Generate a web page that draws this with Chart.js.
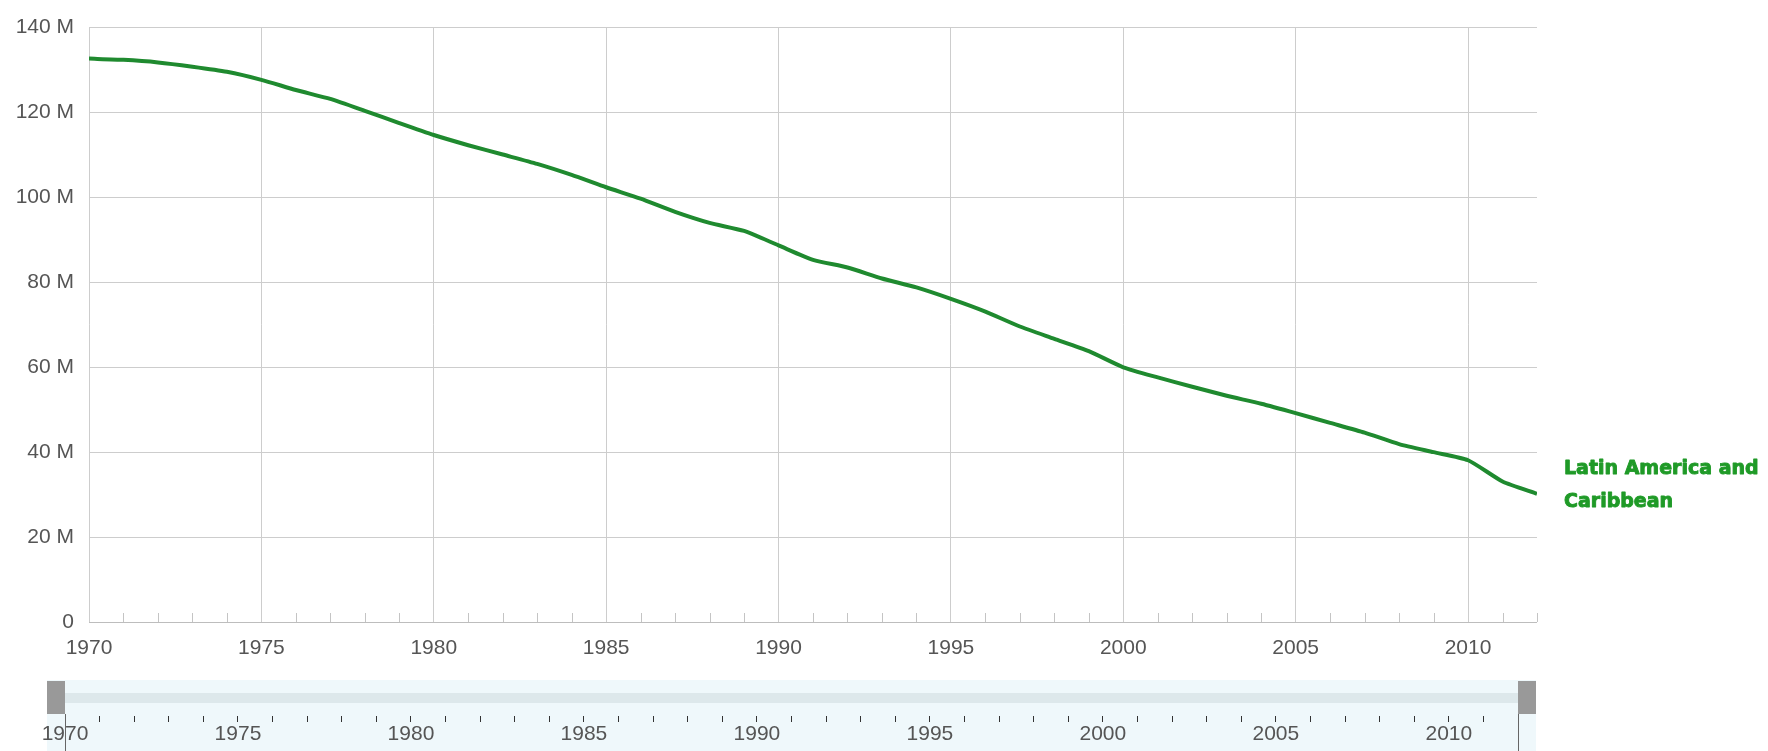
<!DOCTYPE html>
<html>
<head>
<meta charset="utf-8">
<script src="https://cdn.jsdelivr.net/npm/chart.js@4/dist/chart.umd.min.js"></script>
<style>
    body { margin: 0; background: #fff; width: 1768px; height: 751px; overflow: hidden; position: relative; }
    #mainChart { position: absolute; left: 0; top: 0; }
    #sliderChart { position: absolute; left: 0; top: 675px; }
</style>
</head>
<body>
<canvas id="mainChart" width="1768" height="675"></canvas>
<canvas id="sliderChart" width="1768" height="76"></canvas>
<script>
// Population data (millions), Latin America and Caribbean
const years = [1970, 1971, 1972, 1973, 1974, 1975, 1976, 1977, 1978, 1979,
    1980, 1981, 1982, 1983, 1984, 1985, 1986, 1987, 1988, 1989,
    1990, 1991, 1992, 1993, 1994, 1995, 1996, 1997, 1998, 1999,
    2000, 2001, 2002, 2003, 2004, 2005, 2006, 2007, 2008, 2009,
    2010, 2011, 2012];
const values = [132.7, 132.4, 131.8, 130.8, 129.6, 127.7, 125.3, 123.2, 120.4, 117.5,
    114.7, 112.3, 110.1, 107.9, 105.3, 102.4, 99.7, 96.6, 94.0, 92.1,
    88.7, 85.3, 83.5, 80.9, 78.8, 76.1, 73.1, 69.6, 66.7, 63.8,
    60.0, 57.6, 55.4, 53.3, 51.4, 49.2, 46.9, 44.6, 41.9, 40.0,
    38.1, 33.1, 30.2];
const seriesLabel = ['Latin America and', 'Caribbean'];
const yTicks = [0, 20, 40, 60, 80, 100, 120, 140];

const FONT = "'Liberation Sans', Arial, sans-serif";

// minor year ticks along the bottom axis + end label
const mainExtras = {
    id: 'mainExtras',
    afterDatasetsDraw(chart) {
        const ctx = chart.ctx;
        const x = chart.scales.x;
        const y = chart.scales.y;
        const base = y.getPixelForValue(0);
        ctx.save();
        ctx.strokeStyle = '#c4c4c4';
        ctx.lineWidth = 1;
        years.forEach(yr => {
            if (yr % 5 === 0) return;
            const px = Math.round(x.getPixelForValue(yr)) + 0.5;
            ctx.beginPath();
            ctx.moveTo(px, base);
            ctx.lineTo(px, base - 9);
            ctx.stroke();
        });
        // label next to the last point
        const lx = x.getPixelForValue(years[years.length - 1]) + 27;
        const ly = y.getPixelForValue(values[values.length - 1]);
        ctx.fillStyle = '#1f9a27';
        ctx.strokeStyle = '#1f9a27';
        ctx.lineWidth = 0.9;
        ctx.lineJoin = 'round';
        ctx.font = "bold 19px 'DejaVu Sans', sans-serif";
        ctx.textBaseline = 'alphabetic';
        ctx.textAlign = 'left';
        ctx.fillText(seriesLabel[0], lx, ly - 20);
        ctx.strokeText(seriesLabel[0], lx, ly - 20);
        ctx.fillText(seriesLabel[1], lx, ly + 13);
        ctx.strokeText(seriesLabel[1], lx, ly + 13);
        ctx.restore();
    }
};

new Chart(document.getElementById('mainChart'), {
    type: 'line',
    data: {
        datasets: [{
            data: years.map((yr, i) => ({ x: yr, y: values[i] })),
            borderColor: '#1f8a2f',
            borderWidth: 4,
            pointRadius: 0,
            tension: 0.2,
            fill: false
        }]
    },
    options: {
        responsive: false,
        animation: false,
        layout: { padding: { left: 0, right: 231, top: 20, bottom: 0 } },
        plugins: { legend: { display: false }, tooltip: { enabled: false } },
        scales: {
            x: {
                type: 'linear',
                min: 1970,
                max: 2012,
                afterBuildTicks: scale => { scale.ticks = years.map(v => ({ value: v })); },
                afterFit: scale => { scale.height = 53; },
                border: { display: false },
                grid: {
                    drawTicks: false,
                    color: c => (c.tick && c.tick.value % 5 === 0) ? '#cdcdcd' : 'transparent'
                },
                ticks: {
                    autoSkip: false,
                    maxRotation: 0,
                    padding: 14,
                    color: '#555',
                    font: { family: FONT, size: 21 },
                    callback: v => v % 5 === 0 ? String(v) : ''
                }
            },
            y: {
                min: 0,
                max: 140,
                afterBuildTicks: scale => { scale.ticks = yTicks.map(v => ({ value: v })); },
                afterFit: scale => { scale.width = 89; },
                border: { display: false },
                grid: {
                    drawTicks: false,
                    color: c => c.tick && c.tick.value === 0 ? '#bdbdbd' : '#cdcdcd'
                },
                ticks: {
                    padding: 15,
                    color: '#555',
                    font: { family: FONT, size: 21 },
                    callback: v => v === 0 ? '0' : v + ' M'
                }
            }
        }
    },
    plugins: [mainExtras]
});

// range slider band and handles
const sliderBand = {
    id: 'sliderBand',
    beforeDraw(chart) {
        const ctx = chart.ctx;
        const x = chart.scales.x;
        const top = chart.chartArea.top;
        const x0 = x.getPixelForValue(1970);
        const x1 = x.getPixelForValue(2012);
        ctx.save();
        ctx.fillStyle = '#eff8fb';
        ctx.fillRect(x0 - 18, top + 5, x1 - x0 + 36, chart.height - top - 5);
        ctx.fillStyle = '#dde8eb';
        ctx.fillRect(x0, top + 18, x1 - x0, 10);
        ctx.restore();
    },
    afterDraw(chart) {
        const ctx = chart.ctx;
        const x = chart.scales.x;
        const top = chart.chartArea.top;
        const x0 = Math.round(x.getPixelForValue(1970));
        const x1 = Math.round(x.getPixelForValue(2012));
        ctx.save();
        ctx.fillStyle = '#999';
        ctx.fillRect(x0 - 18, top + 6, 18, 33);
        ctx.fillRect(x1, top + 6, 18, 33);
        ctx.strokeStyle = '#666';
        ctx.lineWidth = 1;
        [x0, x1].forEach(px => {
            ctx.beginPath();
            ctx.moveTo(px + 0.5, top + 39);
            ctx.lineTo(px + 0.5, chart.height);
            ctx.stroke();
        });
        ctx.restore();
    }
};

new Chart(document.getElementById('sliderChart'), {
    type: 'line',
    data: { datasets: [{ data: [] }] },
    options: {
        responsive: false,
        animation: false,
        layout: { padding: { left: 65, right: 250, top: 0, bottom: 0 } },
        plugins: { legend: { display: false }, tooltip: { enabled: false } },
        scales: {
            x: {
                type: 'linear',
                min: 1970,
                max: 2012,
                afterBuildTicks: scale => { scale.ticks = years.map(v => ({ value: v })); },
                afterFit: scale => { scale.height = 35; },
                border: { display: false },
                grid: {
                    drawOnChartArea: false,
                    drawTicks: true,
                    tickLength: 6,
                    tickColor: '#333'
                },
                ticks: {
                    autoSkip: false,
                    maxRotation: 0,
                    padding: 0,
                    color: '#555',
                    font: { family: FONT, size: 21 },
                    callback: v => v % 5 === 0 ? String(v) : ''
                }
            },
            y: { display: false, min: 0, max: 1 }
        }
    },
    plugins: [sliderBand]
});
</script>
</body>
</html>
